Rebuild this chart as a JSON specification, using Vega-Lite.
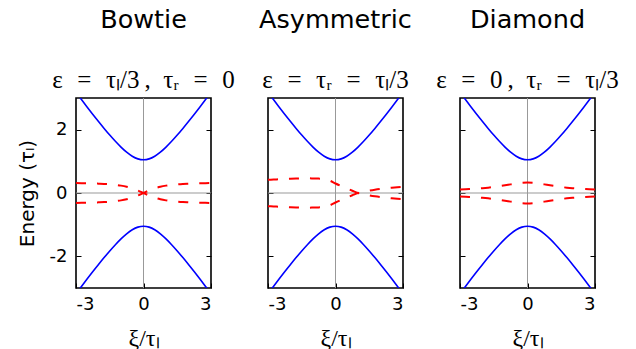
{
  "$schema": "https://vega.github.io/schema/vega-lite/v6.json",
  "padding": {"left": 16, "top": 7, "right": 5, "bottom": 5},
  "bounds": "flush",
  "spacing": 57,
  "config": {
    "view": {"stroke": "black", "strokeWidth": 1.6},
    "axis": {
      "domain": false,
      "grid": false,
      "labelFont": "DejaVu Sans",
      "labelFontSize": 18,
      "labelColor": "black",
      "tickColor": "black",
      "tickWidth": 1,
      "tickSize": -5,
      "titleFontWeight": "normal",
      "titleColor": "black"
    },
    "title": {
      "font": "DejaVu Sans",
      "fontSize": 25.5,
      "fontWeight": "normal",
      "color": "black",
      "subtitleFont": "Liberation Serif",
      "subtitleFontSize": 25,
      "subtitleFontStyle": "normal",
      "subtitleColor": "black",
      "subtitlePadding": 34,
      "anchor": "middle",
      "offset": 5
    }
  },
  "datasets": {
    "band": [
      {"xi": -3, "E": 3.178, "b": "u"}, {"xi": -2.75, "E": 2.943, "b": "u"}, {"xi": -2.5, "E": 2.711, "b": "u"},
      {"xi": -2.25, "E": 2.482, "b": "u"}, {"xi": -2, "E": 2.258, "b": "u"}, {"xi": -1.75, "E": 2.04, "b": "u"},
      {"xi": -1.5, "E": 1.83, "b": "u"}, {"xi": -1.25, "E": 1.632, "b": "u"}, {"xi": -1, "E": 1.449, "b": "u"},
      {"xi": -0.75, "E": 1.289, "b": "u"}, {"xi": -0.5, "E": 1.162, "b": "u"}, {"xi": -0.25, "E": 1.078, "b": "u"},
      {"xi": 0, "E": 1.049, "b": "u"}, {"xi": 0.25, "E": 1.078, "b": "u"}, {"xi": 0.5, "E": 1.162, "b": "u"},
      {"xi": 0.75, "E": 1.289, "b": "u"}, {"xi": 1, "E": 1.449, "b": "u"}, {"xi": 1.25, "E": 1.632, "b": "u"},
      {"xi": 1.5, "E": 1.83, "b": "u"}, {"xi": 1.75, "E": 2.04, "b": "u"}, {"xi": 2, "E": 2.258, "b": "u"},
      {"xi": 2.25, "E": 2.482, "b": "u"}, {"xi": 2.5, "E": 2.711, "b": "u"}, {"xi": 2.75, "E": 2.943, "b": "u"},
      {"xi": 3, "E": 3.178, "b": "u"},
      {"xi": -3, "E": -3.178, "b": "d"}, {"xi": -2.75, "E": -2.943, "b": "d"}, {"xi": -2.5, "E": -2.711, "b": "d"},
      {"xi": -2.25, "E": -2.482, "b": "d"}, {"xi": -2, "E": -2.258, "b": "d"}, {"xi": -1.75, "E": -2.04, "b": "d"},
      {"xi": -1.5, "E": -1.83, "b": "d"}, {"xi": -1.25, "E": -1.632, "b": "d"}, {"xi": -1, "E": -1.449, "b": "d"},
      {"xi": -0.75, "E": -1.289, "b": "d"}, {"xi": -0.5, "E": -1.162, "b": "d"}, {"xi": -0.25, "E": -1.078, "b": "d"},
      {"xi": 0, "E": -1.049, "b": "d"}, {"xi": 0.25, "E": -1.078, "b": "d"}, {"xi": 0.5, "E": -1.162, "b": "d"},
      {"xi": 0.75, "E": -1.289, "b": "d"}, {"xi": 1, "E": -1.449, "b": "d"}, {"xi": 1.25, "E": -1.632, "b": "d"},
      {"xi": 1.5, "E": -1.83, "b": "d"}, {"xi": 1.75, "E": -2.04, "b": "d"}, {"xi": 2, "E": -2.258, "b": "d"},
      {"xi": 2.25, "E": -2.482, "b": "d"}, {"xi": 2.5, "E": -2.711, "b": "d"}, {"xi": 2.75, "E": -2.943, "b": "d"},
      {"xi": 3, "E": -3.178, "b": "d"}
    ],
    "bowtie": [
      {"xi": -3, "E": -0.313, "c": "a"}, {"xi": -2.75, "E": -0.31, "c": "a"}, {"xi": -2.5, "E": -0.306, "c": "a"},
      {"xi": -2.25, "E": -0.302, "c": "a"}, {"xi": -2, "E": -0.295, "c": "a"}, {"xi": -1.75, "E": -0.287, "c": "a"},
      {"xi": -1.5, "E": -0.275, "c": "a"}, {"xi": -1.25, "E": -0.258, "c": "a"}, {"xi": -1, "E": -0.233, "c": "a"},
      {"xi": -0.75, "E": -0.198, "c": "a"}, {"xi": -0.5, "E": -0.148, "c": "a"}, {"xi": -0.25, "E": -0.08, "c": "a"},
      {"xi": 0, "E": 0, "c": "a"}, {"xi": 0.25, "E": 0.08, "c": "a"}, {"xi": 0.5, "E": 0.148, "c": "a"},
      {"xi": 0.75, "E": 0.198, "c": "a"}, {"xi": 1, "E": 0.233, "c": "a"}, {"xi": 1.25, "E": 0.258, "c": "a"},
      {"xi": 1.5, "E": 0.275, "c": "a"}, {"xi": 1.75, "E": 0.287, "c": "a"}, {"xi": 2, "E": 0.295, "c": "a"},
      {"xi": 2.25, "E": 0.302, "c": "a"}, {"xi": 2.5, "E": 0.306, "c": "a"}, {"xi": 2.75, "E": 0.31, "c": "a"},
      {"xi": 3, "E": 0.313, "c": "a"},
      {"xi": -3, "E": 0.313, "c": "b"}, {"xi": -2.75, "E": 0.31, "c": "b"}, {"xi": -2.5, "E": 0.306, "c": "b"},
      {"xi": -2.25, "E": 0.302, "c": "b"}, {"xi": -2, "E": 0.295, "c": "b"}, {"xi": -1.75, "E": 0.287, "c": "b"},
      {"xi": -1.5, "E": 0.275, "c": "b"}, {"xi": -1.25, "E": 0.258, "c": "b"}, {"xi": -1, "E": 0.233, "c": "b"},
      {"xi": -0.75, "E": 0.198, "c": "b"}, {"xi": -0.5, "E": 0.148, "c": "b"}, {"xi": -0.25, "E": 0.08, "c": "b"},
      {"xi": 0, "E": 0, "c": "b"}, {"xi": 0.25, "E": -0.08, "c": "b"}, {"xi": 0.5, "E": -0.148, "c": "b"},
      {"xi": 0.75, "E": -0.198, "c": "b"}, {"xi": 1, "E": -0.233, "c": "b"}, {"xi": 1.25, "E": -0.258, "c": "b"},
      {"xi": 1.5, "E": -0.275, "c": "b"}, {"xi": 1.75, "E": -0.287, "c": "b"}, {"xi": 2, "E": -0.295, "c": "b"},
      {"xi": 2.25, "E": -0.302, "c": "b"}, {"xi": 2.5, "E": -0.306, "c": "b"}, {"xi": 2.75, "E": -0.31, "c": "b"},
      {"xi": 3, "E": -0.313, "c": "b"}
    ],
    "asym": [
      {"xi": -3, "E": 0.415, "c": "a"}, {"xi": -2.75, "E": 0.425, "c": "a"}, {"xi": -2.5, "E": 0.435, "c": "a"},
      {"xi": -2.25, "E": 0.445, "c": "a"}, {"xi": -2, "E": 0.452, "c": "a"}, {"xi": -1.75, "E": 0.458, "c": "a"},
      {"xi": -1.5, "E": 0.462, "c": "a"}, {"xi": -1.25, "E": 0.463, "c": "a"}, {"xi": -1, "E": 0.46, "c": "a"},
      {"xi": -0.75, "E": 0.455, "c": "a"}, {"xi": -0.5, "E": 0.44, "c": "a"}, {"xi": -0.25, "E": 0.39, "c": "a"},
      {"xi": 0, "E": 0.3, "c": "a"}, {"xi": 0.25, "E": 0.22, "c": "a"}, {"xi": 0.5, "E": 0.145, "c": "a"},
      {"xi": 0.75, "E": 0.07, "c": "a"}, {"xi": 1, "E": 0, "c": "a"}, {"xi": 1.25, "E": -0.04, "c": "a"},
      {"xi": 1.5, "E": -0.075, "c": "a"}, {"xi": 1.75, "E": -0.105, "c": "a"}, {"xi": 2, "E": -0.13, "c": "a"},
      {"xi": 2.25, "E": -0.15, "c": "a"}, {"xi": 2.5, "E": -0.167, "c": "a"}, {"xi": 2.75, "E": -0.182, "c": "a"},
      {"xi": 3, "E": -0.195, "c": "a"},
      {"xi": -3, "E": -0.415, "c": "b"}, {"xi": -2.75, "E": -0.425, "c": "b"}, {"xi": -2.5, "E": -0.435, "c": "b"},
      {"xi": -2.25, "E": -0.445, "c": "b"}, {"xi": -2, "E": -0.452, "c": "b"}, {"xi": -1.75, "E": -0.458, "c": "b"},
      {"xi": -1.5, "E": -0.462, "c": "b"}, {"xi": -1.25, "E": -0.463, "c": "b"}, {"xi": -1, "E": -0.46, "c": "b"},
      {"xi": -0.75, "E": -0.455, "c": "b"}, {"xi": -0.5, "E": -0.44, "c": "b"}, {"xi": -0.25, "E": -0.39, "c": "b"},
      {"xi": 0, "E": -0.3, "c": "b"}, {"xi": 0.25, "E": -0.22, "c": "b"}, {"xi": 0.5, "E": -0.145, "c": "b"},
      {"xi": 0.75, "E": -0.07, "c": "b"}, {"xi": 1, "E": 0, "c": "b"}, {"xi": 1.25, "E": 0.04, "c": "b"},
      {"xi": 1.5, "E": 0.075, "c": "b"}, {"xi": 1.75, "E": 0.105, "c": "b"}, {"xi": 2, "E": 0.13, "c": "b"},
      {"xi": 2.25, "E": 0.15, "c": "b"}, {"xi": 2.5, "E": 0.167, "c": "b"}, {"xi": 2.75, "E": 0.182, "c": "b"},
      {"xi": 3, "E": 0.195, "c": "b"}
    ],
    "diamond": [
      {"xi": -3, "E": 0.11, "c": "a"}, {"xi": -2.75, "E": 0.12, "c": "a"}, {"xi": -2.5, "E": 0.131, "c": "a"},
      {"xi": -2.25, "E": 0.142, "c": "a"}, {"xi": -2, "E": 0.152, "c": "a"}, {"xi": -1.75, "E": 0.168, "c": "a"},
      {"xi": -1.5, "E": 0.19, "c": "a"}, {"xi": -1.25, "E": 0.216, "c": "a"}, {"xi": -1, "E": 0.243, "c": "a"},
      {"xi": -0.75, "E": 0.272, "c": "a"}, {"xi": -0.5, "E": 0.3, "c": "a"}, {"xi": -0.25, "E": 0.322, "c": "a"},
      {"xi": 0, "E": 0.33, "c": "a"}, {"xi": 0.25, "E": 0.322, "c": "a"}, {"xi": 0.5, "E": 0.3, "c": "a"},
      {"xi": 0.75, "E": 0.272, "c": "a"}, {"xi": 1, "E": 0.243, "c": "a"}, {"xi": 1.25, "E": 0.216, "c": "a"},
      {"xi": 1.5, "E": 0.19, "c": "a"}, {"xi": 1.75, "E": 0.168, "c": "a"}, {"xi": 2, "E": 0.152, "c": "a"},
      {"xi": 2.25, "E": 0.142, "c": "a"}, {"xi": 2.5, "E": 0.131, "c": "a"}, {"xi": 2.75, "E": 0.12, "c": "a"},
      {"xi": 3, "E": 0.11, "c": "a"},
      {"xi": -3, "E": -0.11, "c": "b"}, {"xi": -2.75, "E": -0.12, "c": "b"}, {"xi": -2.5, "E": -0.131, "c": "b"},
      {"xi": -2.25, "E": -0.142, "c": "b"}, {"xi": -2, "E": -0.152, "c": "b"}, {"xi": -1.75, "E": -0.168, "c": "b"},
      {"xi": -1.5, "E": -0.19, "c": "b"}, {"xi": -1.25, "E": -0.216, "c": "b"}, {"xi": -1, "E": -0.243, "c": "b"},
      {"xi": -0.75, "E": -0.272, "c": "b"}, {"xi": -0.5, "E": -0.3, "c": "b"}, {"xi": -0.25, "E": -0.322, "c": "b"},
      {"xi": 0, "E": -0.33, "c": "b"}, {"xi": 0.25, "E": -0.322, "c": "b"}, {"xi": 0.5, "E": -0.3, "c": "b"},
      {"xi": 0.75, "E": -0.272, "c": "b"}, {"xi": 1, "E": -0.243, "c": "b"}, {"xi": 1.25, "E": -0.216, "c": "b"},
      {"xi": 1.5, "E": -0.19, "c": "b"}, {"xi": 1.75, "E": -0.168, "c": "b"}, {"xi": 2, "E": -0.152, "c": "b"},
      {"xi": 2.25, "E": -0.142, "c": "b"}, {"xi": 2.5, "E": -0.131, "c": "b"}, {"xi": 2.75, "E": -0.12, "c": "b"},
      {"xi": 3, "E": -0.11, "c": "b"}
    ]
  },
  "hconcat": [
    {
      "title": {"text": "Bowtie", "subtitle": "ε\u2002\u200a=\u2002\u200aτₗ/3\u2009,\u2002τᵣ\u2002\u200a=\u2002\u200a0"},
      "width": 135,
      "height": 190,
      "resolve": {"axis": {"y": "independent"}},
      "layer": [
        {
          "data": {"values": [{}]},
          "mark": {"type": "rule", "color": "#999999", "strokeWidth": 1},
          "encoding": {"x": {"datum": 0, "type": "quantitative", "scale": {"domain": [-3, 3], "nice": false, "zero": false},
            "axis": {"values": [-3, 0, 3], "labelExpr": "'' + datum.value", "labelPadding": 12, "title": "ξ/τₗ", "titleFont": "Liberation Serif", "titleFontSize": 24, "titlePadding": 13}}}
        },
        {
          "data": {"values": [{}]},
          "mark": {"type": "rule", "color": "#999999", "strokeWidth": 1},
          "encoding": {"y": {"datum": 0, "type": "quantitative", "scale": {"domain": [-3, 3], "nice": false, "zero": false}, "axis": null}}
        },
        {
          "data": {"name": "band"},
          "mark": {"type": "line", "color": "#0000ff", "strokeWidth": 1.6, "clip": true, "interpolate": "monotone"},
          "encoding": {
            "x": {"field": "xi", "type": "quantitative", "scale": {"domain": [-3, 3], "nice": false, "zero": false},
              "axis": {"values": [-3, 0, 3], "labelExpr": "'' + datum.value", "labelPadding": 12, "title": "ξ/τₗ", "titleFont": "Liberation Serif", "titleFontSize": 24, "titlePadding": 13}},
            "y": {"field": "E", "type": "quantitative", "scale": {"domain": [-3, 3], "nice": false, "zero": false},
              "axis": {"orient": "left", "values": [-2, 0, 2], "labelExpr": "'' + datum.value", "labelPadding": 14, "title": "Energy (τₗ)", "titleFont": "DejaVu Sans", "titleFontSize": 20, "titlePadding": 12}},
            "detail": {"field": "b"}
          }
        },
        {
          "data": {"name": "bowtie"},
          "mark": {"type": "line", "color": "#ff0000", "strokeWidth": 2, "strokeDash": [10, 11], "clip": true, "interpolate": "monotone"},
          "encoding": {
            "x": {"field": "xi", "type": "quantitative", "scale": {"domain": [-3, 3], "nice": false, "zero": false},
              "axis": {"values": [-3, 0, 3], "labelExpr": "'' + datum.value", "labelPadding": 12, "title": "ξ/τₗ", "titleFont": "Liberation Serif", "titleFontSize": 24, "titlePadding": 13}},
            "y": {"field": "E", "type": "quantitative", "scale": {"domain": [-3, 3], "nice": false, "zero": false},
              "axis": {"orient": "right", "values": [-2, 0, 2], "labels": false, "title": null}},
            "detail": {"field": "c"}
          }
        }
      ]
    },
    {
      "title": {"text": "Asymmetric", "subtitle": "ε\u2002\u200a=\u2002\u200aτᵣ\u2002\u200a=\u2002\u200aτₗ/3"},
      "width": 135,
      "height": 190,
      "resolve": {"axis": {"y": "independent"}},
      "layer": [
        {
          "data": {"values": [{}]},
          "mark": {"type": "rule", "color": "#999999", "strokeWidth": 1},
          "encoding": {"x": {"datum": 0, "type": "quantitative", "scale": {"domain": [-3, 3], "nice": false, "zero": false},
            "axis": {"values": [-3, 0, 3], "labelExpr": "'' + datum.value", "labelPadding": 12, "title": "ξ/τₗ", "titleFont": "Liberation Serif", "titleFontSize": 24, "titlePadding": 13}}}
        },
        {
          "data": {"values": [{}]},
          "mark": {"type": "rule", "color": "#999999", "strokeWidth": 1},
          "encoding": {"y": {"datum": 0, "type": "quantitative", "scale": {"domain": [-3, 3], "nice": false, "zero": false}, "axis": null}}
        },
        {
          "data": {"name": "band"},
          "mark": {"type": "line", "color": "#0000ff", "strokeWidth": 1.6, "clip": true, "interpolate": "monotone"},
          "encoding": {
            "x": {"field": "xi", "type": "quantitative", "scale": {"domain": [-3, 3], "nice": false, "zero": false},
              "axis": {"values": [-3, 0, 3], "labelExpr": "'' + datum.value", "labelPadding": 12, "title": "ξ/τₗ", "titleFont": "Liberation Serif", "titleFontSize": 24, "titlePadding": 13}},
            "y": {"field": "E", "type": "quantitative", "scale": {"domain": [-3, 3], "nice": false, "zero": false},
              "axis": {"orient": "left", "values": [-2, 0, 2], "labels": false, "title": null}},
            "detail": {"field": "b"}
          }
        },
        {
          "data": {"name": "asym"},
          "mark": {"type": "line", "color": "#ff0000", "strokeWidth": 2, "strokeDash": [10, 11], "clip": true, "interpolate": "monotone"},
          "encoding": {
            "x": {"field": "xi", "type": "quantitative", "scale": {"domain": [-3, 3], "nice": false, "zero": false},
              "axis": {"values": [-3, 0, 3], "labelExpr": "'' + datum.value", "labelPadding": 12, "title": "ξ/τₗ", "titleFont": "Liberation Serif", "titleFontSize": 24, "titlePadding": 13}},
            "y": {"field": "E", "type": "quantitative", "scale": {"domain": [-3, 3], "nice": false, "zero": false},
              "axis": {"orient": "right", "values": [-2, 0, 2], "labels": false, "title": null}},
            "detail": {"field": "c"}
          }
        }
      ]
    },
    {
      "title": {"text": "Diamond", "subtitle": "ε\u2002\u200a=\u2002\u200a0\u2009,\u2002τᵣ\u2002\u200a=\u2002\u200aτₗ/3"},
      "width": 135,
      "height": 190,
      "resolve": {"axis": {"y": "independent"}},
      "layer": [
        {
          "data": {"values": [{}]},
          "mark": {"type": "rule", "color": "#999999", "strokeWidth": 1},
          "encoding": {"x": {"datum": 0, "type": "quantitative", "scale": {"domain": [-3, 3], "nice": false, "zero": false},
            "axis": {"values": [-3, 0, 3], "labelExpr": "'' + datum.value", "labelPadding": 12, "title": "ξ/τₗ", "titleFont": "Liberation Serif", "titleFontSize": 24, "titlePadding": 13}}}
        },
        {
          "data": {"values": [{}]},
          "mark": {"type": "rule", "color": "#999999", "strokeWidth": 1},
          "encoding": {"y": {"datum": 0, "type": "quantitative", "scale": {"domain": [-3, 3], "nice": false, "zero": false}, "axis": null}}
        },
        {
          "data": {"name": "band"},
          "mark": {"type": "line", "color": "#0000ff", "strokeWidth": 1.6, "clip": true, "interpolate": "monotone"},
          "encoding": {
            "x": {"field": "xi", "type": "quantitative", "scale": {"domain": [-3, 3], "nice": false, "zero": false},
              "axis": {"values": [-3, 0, 3], "labelExpr": "'' + datum.value", "labelPadding": 12, "title": "ξ/τₗ", "titleFont": "Liberation Serif", "titleFontSize": 24, "titlePadding": 13}},
            "y": {"field": "E", "type": "quantitative", "scale": {"domain": [-3, 3], "nice": false, "zero": false},
              "axis": {"orient": "left", "values": [-2, 0, 2], "labels": false, "title": null}},
            "detail": {"field": "b"}
          }
        },
        {
          "data": {"name": "diamond"},
          "mark": {"type": "line", "color": "#ff0000", "strokeWidth": 2, "strokeDash": [10, 11], "clip": true, "interpolate": "monotone"},
          "encoding": {
            "x": {"field": "xi", "type": "quantitative", "scale": {"domain": [-3, 3], "nice": false, "zero": false},
              "axis": {"values": [-3, 0, 3], "labelExpr": "'' + datum.value", "labelPadding": 12, "title": "ξ/τₗ", "titleFont": "Liberation Serif", "titleFontSize": 24, "titlePadding": 13}},
            "y": {"field": "E", "type": "quantitative", "scale": {"domain": [-3, 3], "nice": false, "zero": false},
              "axis": {"orient": "right", "values": [-2, 0, 2], "labels": false, "title": null}},
            "detail": {"field": "c"}
          }
        }
      ]
    }
  ]
}
